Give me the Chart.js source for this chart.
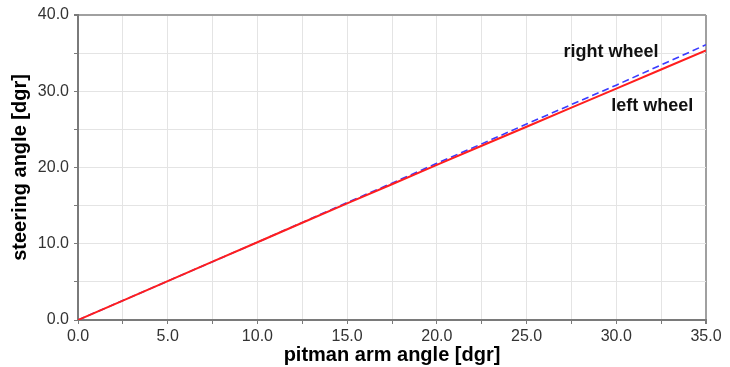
<!DOCTYPE html>
<html>
<head>
<meta charset="utf-8">
<script src="https://cdn.jsdelivr.net/npm/chart.js@4.4.0/dist/chart.umd.min.js"></script>
<style>
  html, body { margin: 0; padding: 0; background: #fff; }
  #wrap { width: 730px; height: 367px; }
</style>
</head>
<body>
<div id="wrap"><canvas id="myChart" width="730" height="367"></canvas></div>
<script>
// pitman arm angle [dgr]
var pitmanAngle = [0, 2.5, 5, 7.5, 10, 12.5, 15, 17.5, 20, 22.5, 25, 27.5, 30, 32.5, 35];
// steering angle of each wheel [dgr]
var leftWheel  = [0, 2.55, 5.1, 7.65, 10.2, 12.75, 15.3, 17.8, 20.35, 22.85, 25.35, 27.85, 30.35, 32.85, 35.35];
var rightWheel = [0, 2.55, 5.1, 7.65, 10.2, 12.8, 15.4, 17.95, 20.55, 23.1, 25.7, 28.25, 30.8, 33.45, 36.1];

// curve labels and where they sit (data units)
var curveLabels = ['right wheel', 'left wheel'];
var labelX = [29.7, 32.0];
var labelY = [35.1, 28.1];

function toPoints(xs, ys) {
    return xs.map(function(x, i) { return { x: x, y: ys[i] }; });
}

// Draw the curve names next to the lines
var curveLabelPlugin = {
    id: 'curveLabels',
    afterDatasetsDraw: function(chart) {
        var ctx = chart.ctx;
        var xs = chart.scales.x, ys = chart.scales.y;
        ctx.save();
        ctx.font = 'bold 18px "Liberation Sans", Arial, sans-serif';
        ctx.fillStyle = '#111';
        ctx.textAlign = 'center';
        ctx.textBaseline = 'middle';
        curveLabels.forEach(function(txt, i) {
            ctx.fillText(txt, xs.getPixelForValue(labelX[i]), ys.getPixelForValue(labelY[i]));
        });
        ctx.restore();
    }
};

var tickFont = { family: '"Liberation Sans", Arial, sans-serif', size: 16 };
var titleFont = { family: '"Liberation Sans", Arial, sans-serif', size: 20, weight: 'bold' };

var ctx = document.getElementById('myChart').getContext('2d');
var myChart = new Chart(ctx, {
    type: 'line',
    data: {
        datasets: [{
            label: 'left wheel',
            data: toPoints(pitmanAngle, leftWheel),
            borderColor: '#ff1e1e',
            borderWidth: 2,
            pointRadius: 0,
            tension: 0,
            order: 0
        }, {
            label: 'right wheel',
            data: toPoints(pitmanAngle, rightWheel),
            borderColor: '#3a3aff',
            borderWidth: 1.6,
            borderDash: [7, 4],
            pointRadius: 0,
            tension: 0,
            order: 1
        }]
    },
    options: {
        responsive: false,
        animation: false,
        layout: { padding: { left: 0, top: 15, right: 24, bottom: 0 } },
        plugins: {
            legend: { display: false },
            tooltip: { enabled: false }
        },
        scales: {
            x: {
                type: 'linear',
                min: 0,
                max: 35,
                afterFit: function(scale) { scale.height = 47; },
                border: { color: '#7a7a7a', width: 2 },
                grid: {
                    color: function(c) { return c.tick && c.tick.value === 35 ? '#a0a0a0' : '#e4e4e4'; },
                    lineWidth: function(c) { return c.tick && c.tick.value === 35 ? 2 : 1; },
                    tickColor: '#7a7a7a',
                    tickLength: 4
                },
                ticks: {
                    stepSize: 2.5,
                    autoSkip: false,
                    maxRotation: 0,
                    padding: 3,
                    color: '#333',
                    font: tickFont,
                    callback: function(v) { return v % 5 === 0 ? v.toFixed(1) : ''; }
                },
                title: {
                    display: true,
                    text: 'pitman arm angle [dgr]',
                    color: '#000',
                    font: titleFont,
                    padding: 0
                }
            },
            y: {
                min: 0,
                max: 40,
                afterFit: function(scale) { scale.width = 78; },
                border: { color: '#7a7a7a', width: 2 },
                grid: {
                    color: function(c) { return c.tick && c.tick.value === 40 ? '#a0a0a0' : '#e4e4e4'; },
                    lineWidth: function(c) { return c.tick && c.tick.value === 40 ? 2 : 1; },
                    tickColor: '#7a7a7a',
                    tickLength: 4
                },
                ticks: {
                    stepSize: 5,
                    autoSkip: false,
                    padding: 5,
                    color: '#333',
                    font: tickFont,
                    callback: function(v) { return v % 10 === 0 ? v.toFixed(1) : ''; }
                },
                title: {
                    display: true,
                    text: 'steering angle [dgr]',
                    color: '#000',
                    font: titleFont,
                    padding: 8
                }
            }
        }
    },
    plugins: [curveLabelPlugin]
});
</script>
</body>
</html>
